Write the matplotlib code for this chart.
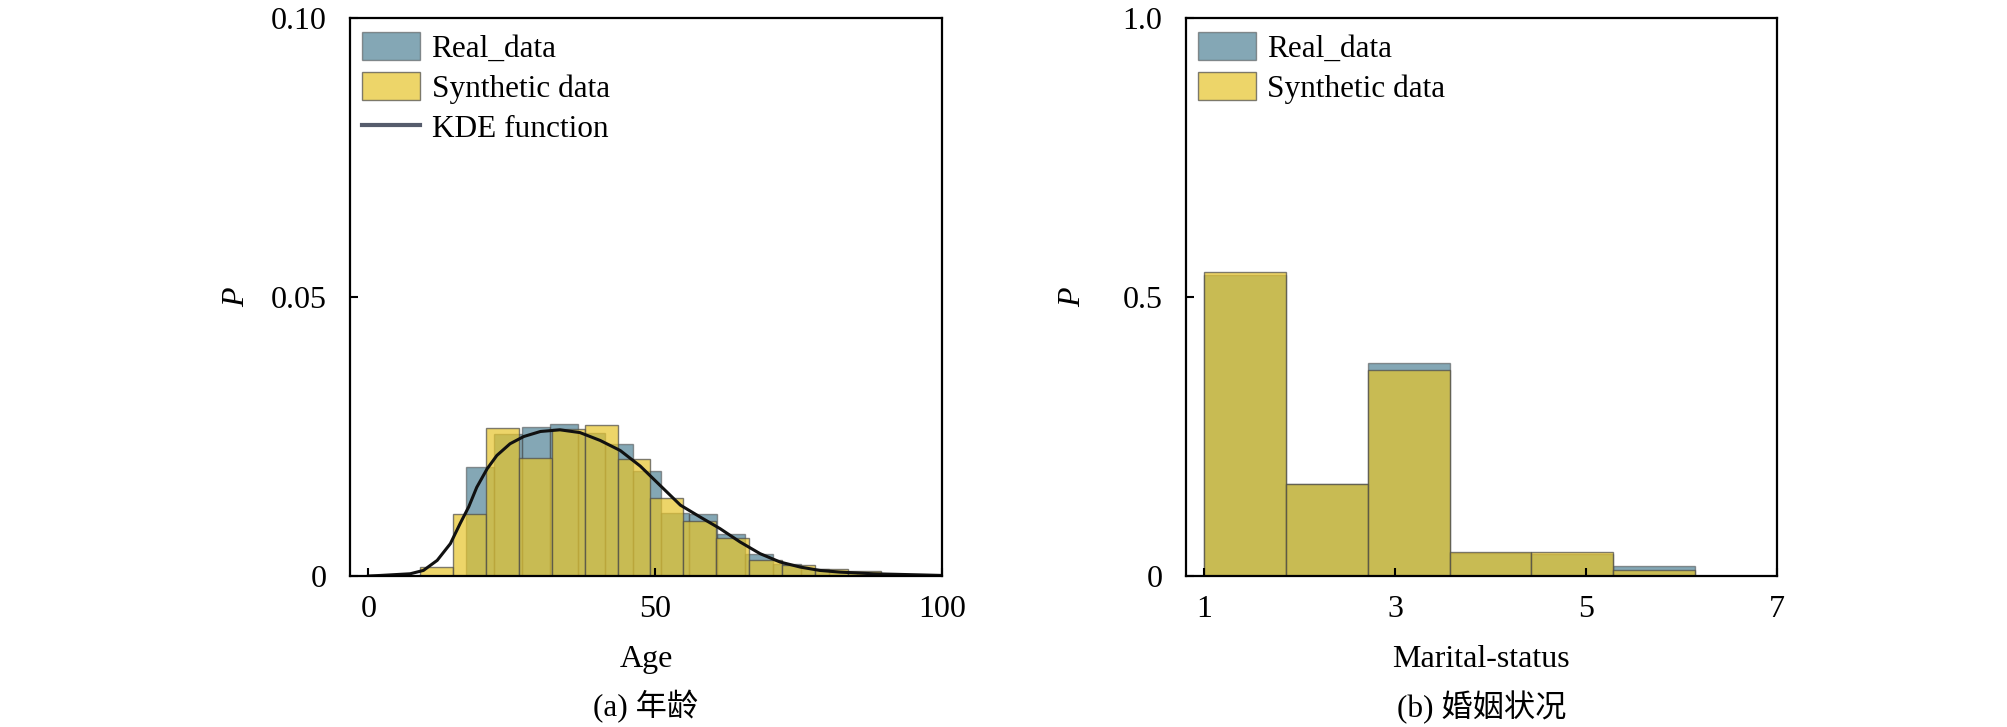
import numpy as np
import matplotlib.pyplot as plt
from matplotlib.lines import Line2D
from matplotlib.patches import Patch

plt.rcParams['font.family'] = ['Liberation Serif', 'Noto Sans CJK SC']
plt.rcParams['mathtext.fontset'] = 'stix'

# colours
REAL_C = '#1f5f78'
SYN_C = '#e6c42a'
EDGE_C = '#4a4a4a'

# (a) Age - histogram bins
age_real_edges = np.linspace(17, 90, 16)
age_real_p = [0.0196, 0.0254, 0.0267, 0.0273, 0.0257, 0.0236, 0.0189, 0.0113,
              0.0111, 0.0075, 0.0039, 0.0021, 0.0012, 0.0007, 0.0004]
age_syn_edges = np.linspace(9.06, 89.3, 15)
age_syn_p = [0.0016, 0.0112, 0.0266, 0.0212, 0.0263, 0.0271, 0.0209, 0.0139,
             0.0098, 0.0069, 0.0028, 0.0020, 0.0012, 0.0009]

# KDE curve
kde_age = [0, 2.1, 7.3, 9.6, 12.0, 14.3, 16.0, 17.5, 18.9, 20.7, 22.4, 24.7, 27.1,
           30.0, 33.4, 36.9, 40.4, 43.9, 47.4, 50.9, 54.4, 57.8, 61.3, 64.8,
           68.3, 71.8, 75.3, 78.7, 82.2, 88.0, 96.2, 100]
kde_p = [0.0, 0.0001, 0.0004, 0.0010, 0.0028, 0.0058, 0.0094, 0.0124, 0.0159,
         0.0192, 0.0216, 0.0237, 0.0250, 0.0259, 0.0262, 0.0257, 0.0243, 0.0225,
         0.0197, 0.0162, 0.0127, 0.0106, 0.0085, 0.0061, 0.0040, 0.0025, 0.0016,
         0.0010, 0.0007, 0.0004, 0.0002, 0.0001]

# (b) Marital-status
ms_edges = np.linspace(1, 7, 8)
ms_real_p = [0.539, 0.164, 0.382, 0.042, 0.039, 0.0174, 0.0]
ms_syn_p = [0.545, 0.164, 0.369, 0.043, 0.043, 0.0115, 0.0]

fig = plt.figure(figsize=(20.08, 7.27), dpi=100)
ax1 = fig.add_axes([0.1743, 0.2077, 0.2948, 0.7675])
ax2 = fig.add_axes([0.5906, 0.2077, 0.2943, 0.7675])


def draw_hist(ax, edges, heights, color, alpha, label):
    edges = np.asarray(edges)
    ax.bar(edges[:-1], heights, width=np.diff(edges), align='edge',
           color=color, alpha=alpha, edgecolor=EDGE_C, linewidth=1.0, label=label)


draw_hist(ax1, age_real_edges, age_real_p, REAL_C, 0.55, 'Real_data')
draw_hist(ax1, age_syn_edges, age_syn_p, SYN_C, 0.7, 'Synthetic data')
ax1.plot(kde_age, kde_p, color='#111111', lw=2.2)

draw_hist(ax2, ms_edges, ms_real_p, REAL_C, 0.55, 'Real_data')
draw_hist(ax2, ms_edges, ms_syn_p, SYN_C, 0.7, 'Synthetic data')

ax1.set_xlim(-3.2, 100)
ax1.set_ylim(0, 0.10)
ax1.set_xticks([0, 50, 100])
ax1.set_yticks([0, 0.05, 0.10])
ax1.set_yticklabels(['0', '0.05', '0.10'])

ax2.set_xlim(0.81, 7)
ax2.set_ylim(0, 1.0)
ax2.set_xticks([1, 3, 5, 7])
ax2.set_yticks([0, 0.5, 1.0])
ax2.set_yticklabels(['0', '0.5', '1.0'])

real_h = Patch(facecolor=REAL_C, alpha=0.55, edgecolor=EDGE_C, linewidth=1.0)
syn_h = Patch(facecolor=SYN_C, alpha=0.7, edgecolor=EDGE_C, linewidth=1.0)
kde_h = Line2D([], [], color='#565c6c', lw=3)

leg_kw = dict(loc='upper left', frameon=False, fontsize=22.5, borderpad=0,
              borderaxespad=0, handlelength=1.85, handleheight=0.98,
              handletextpad=0.38, labelspacing=0.28)
ax1.legend([real_h, syn_h, kde_h], ['Real_data', 'Synthetic data', 'KDE function'],
           bbox_to_anchor=(0.02, 0.975), **leg_kw)
ax2.legend([real_h, syn_h], ['Real_data', 'Synthetic data'],
           bbox_to_anchor=(0.02, 0.975), **leg_kw)

for ax, xlab, cap in [(ax1, 'Age', '(a) 年龄'), (ax2, 'Marital-status', '(b) 婚姻状况')]:
    for s in ax.spines.values():
        s.set_linewidth(1.6)
    ax.tick_params(direction='in', length=6, width=1.5, labelsize=23,
                   top=False, right=False)
    ax.tick_params(axis='x', pad=14)
    ax.tick_params(axis='y', pad=17)
    ax.set_xlabel(xlab, fontsize=23, va='center')
    ax.xaxis.set_label_coords(0.5, -0.1505)
    ax.set_ylabel('P', fontsize=23, fontstyle='italic', va='center')
    ax.yaxis.set_label_coords(-0.191, 0.5)
    ax.text(0.5, -0.2348, cap, transform=ax.transAxes, ha='center', va='center',
            fontsize=22.5)

fig.savefig('out.png', dpi=100)
